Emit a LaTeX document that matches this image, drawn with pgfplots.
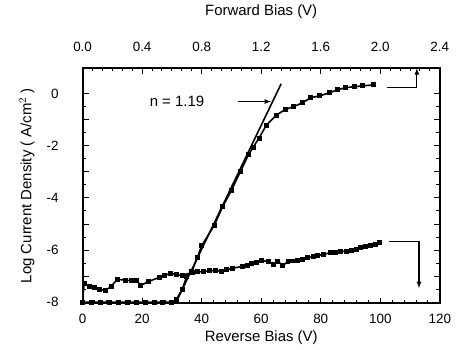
\documentclass[border=0pt]{standalone}
\usepackage{pgfplots}
\pgfplotsset{compat=1.18}
\usepackage{fontspec}
\setmainfont{Liberation Sans}
\begin{document}
\fontsize{15}{17}\selectfont
\begin{tikzpicture}
\pgfplotsset{
  every axis/.append style={
    scale only axis, width=359pt, height=237pt,
    /pgf/number format/assume math mode=true,
    tick style={black, line width=1pt},
    major tick length=6pt, minor tick length=3.5pt,
    axis line style={line width=2pt},
    tick align=inside,
    ticklabel style={font=\fontsize{13.5}{15}\selectfont},
    label style={font=\fontsize{15}{17}\selectfont},
  }
}
\begin{axis}[
  xmin=0, xmax=120, ymin=-8.05, ymax=1,
  xtick={0,20,...,120}, minor x tick num=4,
  ytick={-8,-6,-4,-2,0}, minor y tick num=3,
  extra y ticks={-7,-5,-3,-1}, extra y tick labels={},
  xtick pos=bottom, ytick pos=both,
  xlabel={Reverse Bias (V)},
  xlabel style={yshift=3pt},
  ylabel={Log Current Density ( A/cm$^2$ )},
  ylabel style={yshift=2pt},
  xticklabel style={yshift=-5pt},
  yticklabel style={xshift=-19pt},
  clip=false,
]
\coordinate (bl) at (rel axis cs:0,0);
\coordinate (tr) at (rel axis cs:1,1);
% reverse bias data
\addplot[black, line width=1.6pt, mark=square*, mark size=1.7pt] coordinates {
(0,-8.0) (0.5,-7.3) (2.3,-7.4) (4,-7.45) (5.7,-7.5) (7.7,-7.55) (9.6,-7.39)
(11.7,-7.12) (14.5,-7.16) (16.5,-7.17) (18,-7.17) (19.6,-7.35) (22.3,-7.2)
(25.7,-7.05) (27.5,-6.98) (29.5,-6.89) (31.5,-6.95) (33.4,-6.97) (36.8,-6.86)
(38.5,-6.84) (40.7,-6.82) (42.5,-6.8) (44.6,-6.78) (46.8,-6.82) (48.5,-6.76)
(50.2,-6.7) (53.6,-6.63) (55.5,-6.58) (56.9,-6.52) (58.5,-6.46) (60.2,-6.4)
(62.3,-6.44) (64,-6.55) (65.6,-6.44) (67.3,-6.59) (69,-6.44) (70.5,-6.42)
(72.3,-6.4) (74,-6.35) (75.7,-6.29) (77.5,-6.25) (79,-6.21) (81,-6.16)
(83.4,-6.1) (85,-6.08) (86.8,-6.06) (88.5,-6.04) (90.2,-6.02) (92,-5.96)
(93.5,-5.91) (95,-5.87) (96.8,-5.83) (98.3,-5.8) (99.6,-5.72)
};
% arrows
\draw[black, line width=1.2pt, -latex] (axis cs:103,-5.68) -- (axis cs:113,-5.68) -- (axis cs:113,-7.46);
\draw[black, line width=1.2pt, -latex] (axis cs:102.3,0.23) -- (axis cs:112.3,0.23) -- (axis cs:112.3,0.98);
\node[font=\fontsize{15}{17}\selectfont] at (axis cs:31.7,-0.3) {n = 1.19};
\draw[black, line width=1.2pt, -latex] (axis cs:52.3,-0.3) -- (axis cs:63.3,-0.3);
\end{axis}
\begin{axis}[
  xmin=0, xmax=2.4, ymin=-8.05, ymax=1,
  axis x line*=top, axis y line=none,
  xtick={0,0.4,...,2.4}, minor x tick num=5,
  xticklabel style={yshift=11pt, /pgf/number format/.cd, fixed, fixed zerofill, precision=1},
  xlabel={Forward Bias (V)},
  xlabel style={yshift=13pt},
  clip=false,
]
% forward bias data
\addplot[black, line width=1.6pt, mark=square*, mark size=1.7pt] coordinates {
(0,-8.0) (0.06,-8.0) (0.12,-8.0) (0.18,-8.0) (0.24,-8.0) (0.30,-8.0)
(0.36,-8.0) (0.42,-8.0) (0.48,-8.0) (0.54,-8.0) (0.60,-8.0) (0.63,-7.9)
(0.67,-7.5) (0.70,-7.0) (0.734,-6.82) (0.77,-6.3) (0.80,-5.83) (0.886,-5.04)
(0.942,-4.32) (1.0,-3.71) (1.06,-2.99) (1.114,-2.35) (1.146,-2.05)
(1.186,-1.70) (1.234,-1.21) (1.30,-0.83) (1.36,-0.61) (1.42,-0.49)
(1.48,-0.34) (1.534,-0.15) (1.594,-0.08) (1.66,0.04) (1.714,0.15)
(1.766,0.23) (1.826,0.27) (1.88,0.30) (1.954,0.34)
};
% fit line
\addplot[black, line width=1.6pt] coordinates {(0.626,-8.03) (1.334,0.38)};
\end{axis}
\path ([shift={(-83pt,-38pt)}]bl) rectangle ([shift={(14pt,68pt)}]tr);
\end{tikzpicture}
\end{document}
